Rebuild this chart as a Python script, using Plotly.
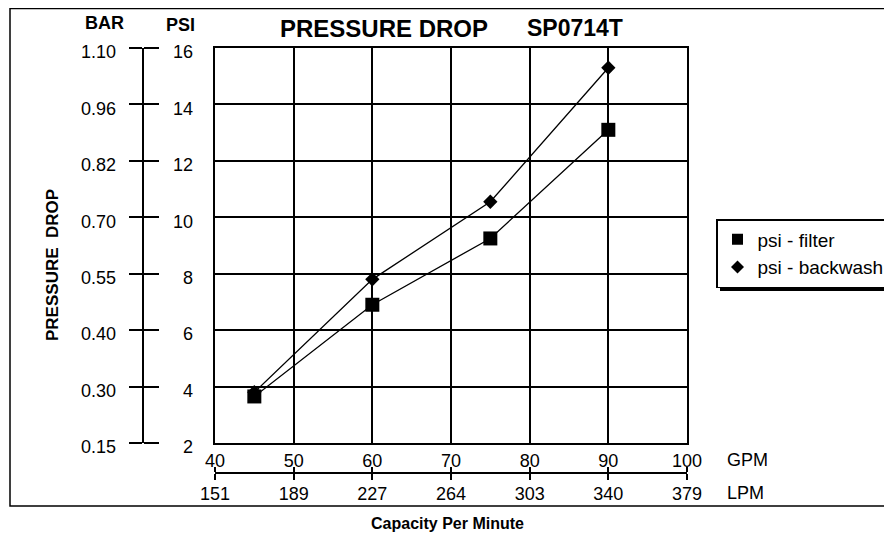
import plotly.graph_objects as go

# ---- data ----
gpm = [45, 60, 75, 90]
psi_filter = [3.65, 6.9, 9.25, 13.1]
psi_backwash = [3.8, 7.8, 10.55, 15.3]

psi_ticks = [2, 4, 6, 8, 10, 12, 14, 16]
psi_labels = ["2", "4", "6", "8", "10", "12", "14", "16"]
bar_labels = ["0.15", "0.30", "0.40", "0.55", "0.70", "0.82", "0.96", "1.10"]
gpm_ticks = [40, 50, 60, 70, 80, 90, 100]
gpm_labels = ["40", "50", "60", "70", "80", "90", "100"]
lpm_labels = ["151", "189", "227", "264", "303", "340", "379"]

# the page body has an 8px margin, so the figure is placed at (8, 8)
OFF = 8
W, H = 892 - OFF, 540 - OFF
FONT = "Liberation Sans, Arial, Helvetica, sans-serif"


def px(x):
    return (x - OFF) / W


def py(y):
    return 1 - (y - OFF) / H


fig = go.Figure()

# data traces
fig.add_trace(go.Scatter(x=gpm, y=psi_filter, mode="lines+markers", showlegend=False,
                         line=dict(color="black", width=1.3),
                         marker=dict(symbol="square", size=14, color="black")))
fig.add_trace(go.Scatter(x=gpm, y=psi_backwash, mode="lines+markers", showlegend=False,
                         line=dict(color="black", width=1.3),
                         marker=dict(symbol="diamond", size=11, color="black")))
# legend-only entries (marker only)
fig.add_trace(go.Scatter(x=[None], y=[None], mode="markers", name="psi - filter",
                         legendgroup="a",
                         marker=dict(symbol="square", size=11, color="black")))
fig.add_trace(go.Scatter(x=[None], y=[None], mode="markers", name="psi - backwash",
                         legendgroup="b",
                         marker=dict(symbol="diamond", size=10, color="black")))

# empty traces to establish the decorative axes
for xa, ya in [("x", "y2"), ("x", "y3"), ("x", "y4"), ("x2", "y"), ("x3", "y")]:
    fig.add_trace(go.Scatter(x=[], y=[], xaxis=xa, yaxis=ya, showlegend=False,
                             hoverinfo="skip"))

tickfont = dict(family=FONT, size=18, color="black")
yrange = [2, 16]
xrange = [40, 100]
ypos = px(142.5)
xscale_y = py(473)

fig.update_layout(
    width=W, height=H,
    margin=dict(l=0, r=0, t=0, b=0, autoexpand=False),
    paper_bgcolor="white", plot_bgcolor="white",
    font=dict(family=FONT, color="black"),
    xaxis=dict(domain=[px(215), px(687)], range=xrange, tickvals=gpm_ticks,
               showticklabels=False, ticks="", showgrid=True, gridcolor="black",
               gridwidth=1.5, showline=True, linecolor="black", linewidth=1.5,
               mirror=True, zeroline=False),
    yaxis=dict(domain=[py(443), py(48)], range=yrange, tickvals=psi_ticks,
               showticklabels=False, ticks="", showgrid=True, gridcolor="black",
               gridwidth=1.5, showline=True, linecolor="black", linewidth=1.5,
               mirror=True, zeroline=False),
    # BAR labels + left half of ticks + vertical axis line
    yaxis2=dict(overlaying="y", anchor="free", position=ypos, side="left",
                range=yrange, tickvals=psi_ticks, ticktext=bar_labels,
                ticks="outside", ticklen=13, tickwidth=1.5, tickcolor="black",
                showline=True, linecolor="black", linewidth=1.5,
                showgrid=False, zeroline=False, tickfont=tickfont,
                ticklabelstandoff=9, ticklabelshift=4),
    # right half of ticks
    yaxis3=dict(overlaying="y", anchor="free", position=ypos, side="right",
                range=yrange, tickvals=psi_ticks, showticklabels=False,
                ticks="outside", ticklen=15, tickwidth=1.5, tickcolor="black",
                showline=False, showgrid=False, zeroline=False),
    # PSI labels
    yaxis4=dict(overlaying="y", anchor="free", position=px(193), side="left",
                range=yrange, tickvals=psi_ticks, ticktext=psi_labels,
                ticks="", showline=False, showgrid=False, zeroline=False,
                tickfont=tickfont, ticklabelshift=4),
    # GPM labels above the capacity scale line
    xaxis2=dict(overlaying="x", anchor="free", position=xscale_y, side="top",
                range=xrange, tickvals=gpm_ticks, ticktext=gpm_labels,
                ticks="outside", ticklen=5, tickwidth=1.5, tickcolor="black",
                showline=True, linecolor="black", linewidth=1.5,
                showgrid=False, zeroline=False, tickfont=tickfont,
                ticklabelstandoff=-7),
    # LPM labels below the capacity scale line
    xaxis3=dict(overlaying="x", anchor="free", position=xscale_y, side="bottom",
                range=xrange, tickvals=gpm_ticks, ticktext=lpm_labels,
                ticks="outside", ticklen=6, tickwidth=1.5, tickcolor="black",
                showline=False, showgrid=False, zeroline=False, tickfont=tickfont,
                ticklabelstandoff=-2),
    legend=dict(x=px(716), y=py(219), xanchor="left", yanchor="top",
                bgcolor="white", bordercolor="black", borderwidth=1.5,
                font=dict(family=FONT, size=19, color="black"),
                tracegroupgap=0, traceorder="normal", itemwidth=30),
    showlegend=True,
)

# outer frame
fig.add_shape(type="rect", xref="paper", yref="paper",
              x0=px(10), x1=px(905), y0=py(506), y1=py(8.5),
              line=dict(color="black", width=1.5), fillcolor="rgba(0,0,0,0)",
              layer="below")
# legend drop shadow (bottom and right edges peek out behind the legend box)
fig.add_shape(type="rect", xref="paper", yref="paper",
              x0=px(720), x1=px(891), y0=py(291), y1=py(223),
              line=dict(width=0), fillcolor="black", layer="above")

annotations = [
    dict(text="<b>PRESSURE DROP</b>", x=px(278), y=py(28), xanchor="left",
         font=dict(size=24)),
    dict(text="<b>SP0714T</b>", x=px(525), y=py(28), xanchor="left",
         font=dict(size=23)),
    dict(text="<b>BAR</b>", x=px(104), y=py(23), xanchor="center", font=dict(size=18)),
    dict(text="<b>PSI</b>", x=px(180), y=py(25), xanchor="center", font=dict(size=18)),
    dict(text="<b>PRESSURE  DROP</b>", x=px(53), y=py(265), textangle=-90,
         xanchor="center", font=dict(size=17)),
    dict(text="GPM", x=px(725), y=py(459.5), xanchor="left", font=dict(size=18)),
    dict(text="LPM", x=px(725), y=py(493), xanchor="left", font=dict(size=18)),
    dict(text="<b>Capacity Per Minute</b>", x=px(447), y=py(523), xanchor="center",
         font=dict(size=16)),
]
for a in annotations:
    a.setdefault("yanchor", "middle")
    fig.add_annotation(xref="paper", yref="paper", showarrow=False,
                       font=dict(family=FONT, color="black", size=a["font"]["size"]),
                       **{k: v for k, v in a.items() if k != "font"})

fig.write_html("out.html")
